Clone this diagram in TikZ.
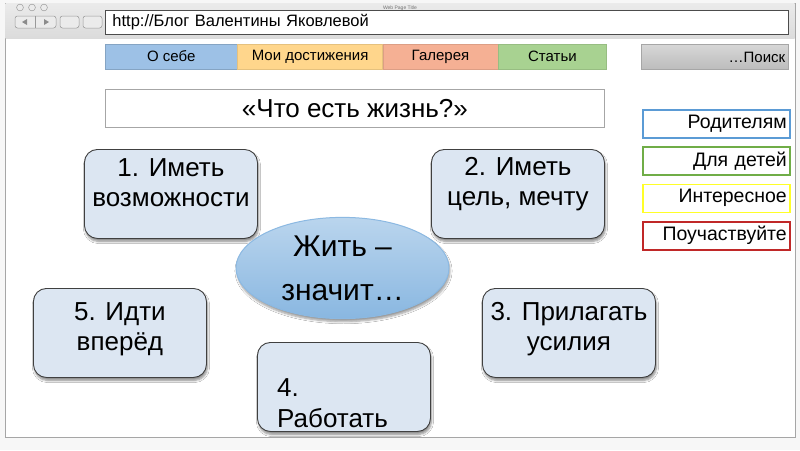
\documentclass[tikz,border=0pt]{standalone}
\usepackage{fontspec}
\setmainfont{Liberation Sans}
\usetikzlibrary{shapes.geometric,shadows.blur}
\definecolor{tabblue}{RGB}{157,193,230}
\definecolor{tabyellow}{RGB}{255,214,140}
\definecolor{taborange}{RGB}{245,176,148}
\definecolor{tabgreen}{RGB}{168,210,145}
\definecolor{boxfill}{RGB}{220,230,242}
\definecolor{rblue}{RGB}{91,155,213}
\definecolor{rgreen}{RGB}{112,173,71}
\definecolor{ryellow}{RGB}{255,255,40}
\definecolor{rred}{RGB}{192,40,40}
\tikzset{
  tab/.style={minimum width=#1, minimum height=25pt, anchor=west, inner sep=0pt, font=\fontsize{15}{17}\selectfont},
  sidebox/.style={draw=#1, line width=1.5pt, fill=white, minimum height=28pt, text width=141pt, inner xsep=3pt, align=right, anchor=north west, font=\fontsize{19.5}{21}\selectfont},
  lifebox/.style={draw=black!75, line width=0.9pt, fill=boxfill, rounded corners=13pt, minimum width=173pt, minimum height=89pt, anchor=north west, blur shadow={shadow xshift=1pt, shadow yshift=-3pt, shadow opacity=45, shadow blur steps=6}},
  lifetext/.style={align=center, inner sep=0pt, font=\fontsize{26}{30}\selectfont},
  light/.style={draw=black!40, fill=black!8, line width=0.5pt},
}
\begin{document}
\begin{tikzpicture}[x=1pt,y=-1pt]
\useasboundingbox (0,0) rectangle (800,450);
\fill[black!3] (0,0) rectangle (800,450);
% window
\draw[black!35, fill=white, line width=1pt] (5,3) rectangle (795,437);
\shade[top color=black!8, bottom color=black!14] (5.5,3.5) rectangle (794.5,38);
\node[font=\fontsize{5}{6}\selectfont, text=black!55] (wtitle) at (400,8) {Web Page Title};
% traffic lights
\draw[light] (20,7.5) circle (3.4);
\draw[light] (32,7.5) circle (3.4);
\draw[light] (44,7.5) circle (3.4);
% buttons
\draw[light, rounded corners=2.5pt] (15,16) rectangle (56,28);
\draw[black!40] (35.5,16) -- (35.5,28);
\fill[black!45] (22,22) -- (27,19) -- (27,25) -- cycle;
\fill[black!45] (49,22) -- (44,19) -- (44,25) -- cycle;
\draw[light, rounded corners=2.5pt] (60,16) rectangle (79,28);
\draw[light, rounded corners=2.5pt] (83,16) rectangle (102,28);
% address bar
\node[draw=black!70, line width=0.9pt, fill=white, text width=669pt, inner xsep=7pt, minimum height=24pt, align=left, anchor=west, font=\fontsize{16.5}{18}\selectfont] (addr) at (105,22.5) {http://Блог Валентины Яковлевой};
% tabs
\node[tab=132pt, fill=tabblue, draw=tabblue!85!black] (t1) at (105,56.5) {О себе};
\node[tab=145pt, fill=tabyellow, draw=tabyellow!90!black] (t2) at (t1.east) {Мои достижения};
\node[tab=115pt, fill=taborange, draw=taborange!90!black] (t3) at (t2.east) {Галерея};
\node[tab=108pt, fill=tabgreen, draw=tabgreen!90!black] (t4) at (t3.east) {Статьи};
\node[draw=black!35, top color=black!16, bottom color=black!26, minimum height=25pt, text width=141pt, inner xsep=3pt, align=right, anchor=west, font=\fontsize{15}{17}\selectfont] (search) at (641,57) {…Поиск};
% title
\node[draw=black!35, line width=0.8pt, fill=white, minimum width=499pt, minimum height=38pt, anchor=north west, font=\fontsize{26}{28}\selectfont] (title) at (105,89) {«Что есть жизнь?»};
% side boxes
\node[sidebox=rblue] (s1) at (642,109) {Родителям};
\node[sidebox=rgreen] (s2) at (642,146) {Для детей};
\node[sidebox=ryellow] (s3) at (642,183.5) {Интересное};
\node[sidebox=rred] (s4) at (642,221) {Поучаствуйте};
% life boxes
\node[lifebox] (b1) at (84,149) {};
\node[lifetext] (b1t) at ([yshift=11pt]b1.center) {1. Иметь\\возможности};
\node[lifebox] (b2) at (431,149) {};
\node[lifetext] (b2t) at ([yshift=10pt]b2.center) {2. Иметь\\цель, мечту};
\node[lifebox] (b3) at (482,288) {};
\node[lifetext] (b3t) at ([yshift=4pt]b3.center) {3. Прилагать\\усилия};
\node[lifebox] (b5) at (33,288) {};
\node[lifetext] (b5t) at ([yshift=4pt]b5.center) {5. Идти\\вперёд};
\node[lifebox] (b4) at (257,342) {};
\node[anchor=north west, align=left, inner sep=0pt, font=\fontsize{26}{31}\selectfont] (b4t) at (277,378) {4.\\Работать};
% ellipse
\node[ellipse, draw=rblue!70, line width=1pt, top color=rblue!42, bottom color=rblue!72, minimum width=213pt, minimum height=100pt, align=center, font=\fontsize{30}{44}\selectfont, blur shadow={shadow xshift=1pt, shadow yshift=-3pt, shadow opacity=40, shadow blur steps=6}] (life) at (342.5,268) {Жить –\\значит…};
\end{tikzpicture}
\end{document}
